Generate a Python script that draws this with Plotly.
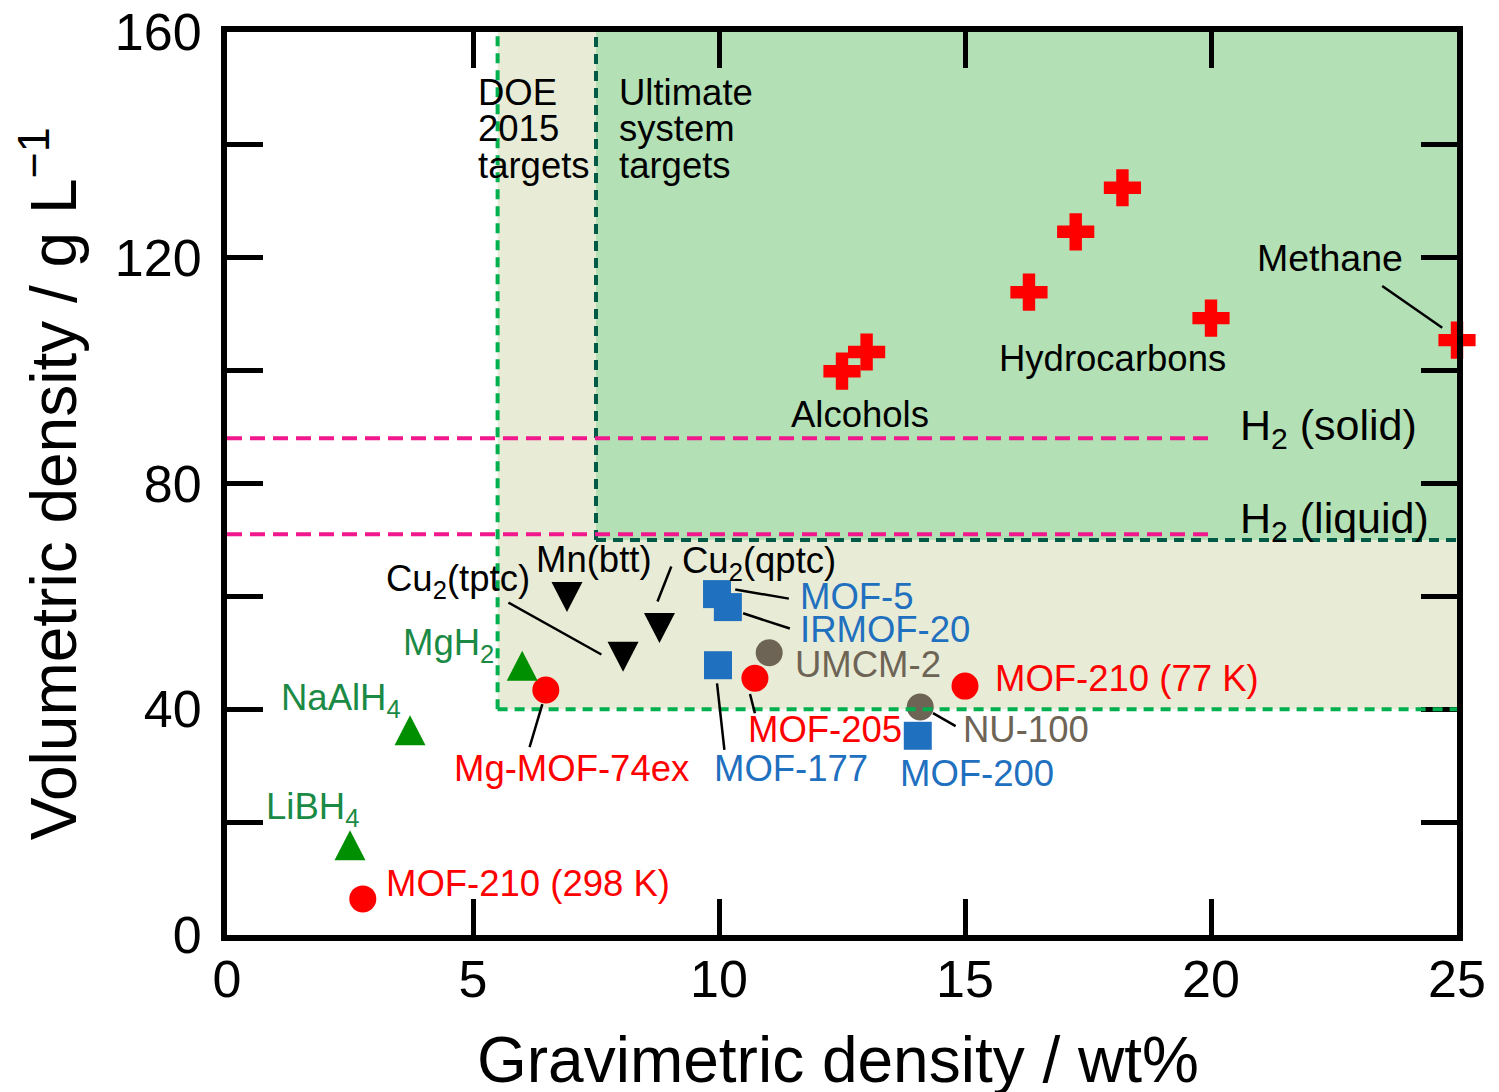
import plotly.graph_objects as go

# ---------------- data ----------------
fuel_x = [12.5, 13.0, 16.3, 17.25, 18.2, 20.0, 25.0]
fuel_y = [99.9, 103.3, 113.9, 124.6, 132.4, 109.3, 105.4]

red_names = ["MOF-210 (298 K)", "Mg-MOF-74ex", "MOF-205", "MOF-210 (77 K)"]
red_x = [2.76, 6.48, 10.73, 15.0]
red_y = [6.4, 43.4, 45.5, 44.1]

gray_names = ["UMCM-2", "NU-100"]
gray_x = [11.02, 14.09]
gray_y = [50.0, 40.4]

blue_names = ["MOF-5", "IRMOF-20", "MOF-177", "MOF-200"]
blue_x = [9.96, 10.18, 9.98, 14.04]
blue_y = [60.4, 58.1, 47.8, 35.3]

black_names = ["Mn(btt)", "Cu2(tptc)", "Cu2(qptc)"]
black_x = [6.91, 8.05, 8.79]
black_y = [59.9, 49.3, 54.4]

hydride_names = ["MgH2", "NaAlH4", "LiBH4"]
hydride_x = [6.0, 3.72, 2.5]
hydride_y = [47.7, 36.3, 15.9]

doe_x, doe_y = 5.5, 40
ult_x, ult_y = 7.5, 70
h2_solid, h2_liquid = 88, 71
h2_line_end = 20

x_ticks = [0, 5, 10, 15, 20, 25]
y_ticks = [0, 20, 40, 60, 80, 100, 120, 140, 160]
y_ticktext = ["0", "", "40", "", "80", "", "120", "", "160"]

FONT = "Liberation Sans, Arial, sans-serif"
RED, BLUE, GRAY, GREEN, GREEN_T = "#ff0000", "#1f70bf", "#6e6456", "#008f00", "#1a8a45"
LBL = 36.5

fig = go.Figure()

# regions
fig.add_shape(type="rect", x0=doe_x, x1=25, y0=doe_y, y1=160, fillcolor="#e8ecd6",
              line_width=0, layer="below")
fig.add_shape(type="rect", x0=ult_x, x1=25, y0=ult_y, y1=160, fillcolor="#b3e1b5",
              line_width=0, layer="below")
# borders
for (x0, x1, y0, y1, c) in [(doe_x, doe_x, doe_y, 160, "#00b04f"), (doe_x, 25, doe_y, doe_y, "#00b04f"),
                            (ult_x, ult_x, ult_y, 160, "#005a46"), (ult_x, 25, ult_y, ult_y, "#005a46")]:
    fig.add_shape(type="line", x0=x0, x1=x1, y0=y0, y1=y1,
                  line=dict(color=c, width=4, dash="10px,7px"))
# H2 lines
for yv in (h2_solid, h2_liquid):
    fig.add_shape(type="line", x0=0, x1=h2_line_end, y0=yv, y1=yv,
                  line=dict(color="#f0188c", width=4, dash="15px,8px"))

# leader lines (data coordinates)
leaders = [
    (5.72, 58.9, 7.61, 49.7),
    (9.03, 65.3, 8.75, 59.1),
    (10.33, 61.2, 11.42, 59.6),
    (10.49, 57.0, 11.44, 54.3),
    (10.63, 42.7, 10.73, 39.3),
    (9.96, 44.6, 10.11, 32.8),
    (14.35, 39.3, 14.81, 37.0),
    (6.41, 40.9, 6.15, 33.3),
    (23.48, 115.0, 24.70, 107.6),
]
for x0, y0, x1, y1 in leaders:
    fig.add_shape(type="line", x0=x0, y0=y0, x1=x1, y1=y1, line=dict(color="black", width=2.5))

# triangles (pixel-sized shapes anchored at the data points)
for x, y in zip(black_x, black_y):
    fig.add_shape(type="path", xsizemode="pixel", ysizemode="pixel", xanchor=x, yanchor=y,
                  path="M-15.5,15 L15.5,15 L0,-15 Z", fillcolor="black", line_width=0)
for x, y in zip(hydride_x, hydride_y):
    fig.add_shape(type="path", xsizemode="pixel", ysizemode="pixel", xanchor=x, yanchor=y,
                  path="M-15.5,-15 L15.5,-15 L0,15 Z", fillcolor=GREEN, line_width=0)

# markers
fig.add_trace(go.Scatter(x=fuel_x, y=fuel_y, mode="markers", cliponaxis=False,
                         marker=dict(symbol="cross", size=31, color=RED, line_width=0)))
fig.add_trace(go.Scatter(x=blue_x, y=blue_y, mode="markers", cliponaxis=False,
                         marker=dict(symbol="square", size=28, color=BLUE, line_width=0)))
fig.add_trace(go.Scatter(x=gray_x, y=gray_y, mode="markers", cliponaxis=False,
                         marker=dict(symbol="circle", size=27, color=GRAY, line_width=0)))
fig.add_trace(go.Scatter(x=red_x, y=red_y, mode="markers", cliponaxis=False,
                         marker=dict(symbol="circle", size=27, color=RED, line_width=0)))

# labels: text, x, y, anchor, color, size
labels = [
    ("DOE", 5.07, 149.2, "left", "black", LBL),
    ("2015", 5.07, 142.9, "left", "black", LBL),
    ("targets", 5.07, 136.4, "left", "black", LBL),
    ("Ultimate", 7.93, 149.2, "left", "black", LBL),
    ("system", 7.93, 142.9, "left", "black", LBL),
    ("targets", 7.93, 136.4, "left", "black", LBL),
    ("Methane", 22.42, 119.9, "center", "black", 37.5),
    ("Hydrocarbons", 18.0, 102.1, "center", "black", LBL),
    ("Alcohols", 12.87, 92.3, "center", "black", LBL),
    ("H<sub>2</sub> (solid)", 20.54, 89.8, "left", "black", 43),
    ("H<sub>2</sub> (liquid)", 20.54, 73.4, "left", "black", 43),
    ("Mn(btt)", 7.45, 66.5, "center", "black", LBL),
    ("Cu<sub>2</sub>(qptc)", 9.21, 66.0, "left", "black", LBL),
    ("Cu<sub>2</sub>(tptc)", 3.19, 62.8, "left", "black", LBL),
    ("MgH<sub>2</sub>", 5.46, 51.4, "right", GREEN_T, LBL),
    ("NaAlH<sub>4</sub>", 1.06, 41.7, "left", GREEN_T, LBL),
    ("LiBH<sub>4</sub>", 0.75, 22.4, "left", GREEN_T, LBL),
    ("MOF-210 (298 K)", 3.19, 9.2, "left", RED, LBL),
    ("Mg-MOF-74ex", 4.57, 29.5, "left", RED, LBL),
    ("MOF-177", 9.86, 29.5, "left", BLUE, LBL),
    ("MOF-205", 10.55, 36.5, "left", RED, LBL),
    ("MOF-200", 13.64, 28.6, "left", BLUE, LBL),
    ("NU-100", 14.91, 36.5, "left", GRAY, LBL),
    ("UMCM-2", 11.51, 48.0, "left", GRAY, LBL),
    ("MOF-210 (77 K)", 15.56, 45.5, "left", RED, LBL),
    ("MOF-5", 11.61, 60.0, "left", BLUE, LBL),
    ("IRMOF-20", 11.61, 54.2, "left", BLUE, LBL),
]
for t, x, y, anc, col, sz in labels:
    fig.add_annotation(x=x, y=y, text=t, showarrow=False, xanchor=anc, yanchor="middle",
                       font=dict(family=FONT, size=sz, color=col))

# axis titles
fig.add_annotation(xref="paper", yref="paper", x=0.497, y=-0.138, yanchor="middle",
                   text="Gravimetric density / wt%", showarrow=False,
                   font=dict(family=FONT, size=64, color="black"))
fig.add_annotation(xref="paper", yref="paper", x=-0.145, y=0.5, xanchor="center",
                   text="Volumetric density / g L<sup>\u22121</sup>", showarrow=False, textangle=-90,
                   font=dict(family=FONT, size=64, color="black"))

axis_common = dict(showline=True, linewidth=6, linecolor="black", mirror="ticks",
                   ticks="inside", ticklen=36, tickwidth=5, tickcolor="black",
                   showgrid=False, zeroline=False, automargin=False,
                   tickfont=dict(family=FONT, size=52, color="black"))
fig.update_xaxes(range=[0, 25], tickvals=x_ticks, ticktext=[str(v) for v in x_ticks],
                 ticklabelstandoff=-6, **axis_common)
fig.update_yaxes(range=[0, 160], tickvals=y_ticks, ticktext=y_ticktext,
                 ticklabelstandoff=9, **axis_common)

fig.update_layout(width=1499, height=1092, margin=dict(l=227, r=42, t=32, b=157),
                  plot_bgcolor="white", paper_bgcolor="white", showlegend=False,
                  font=dict(family=FONT))

fig.write_html("out.html")
